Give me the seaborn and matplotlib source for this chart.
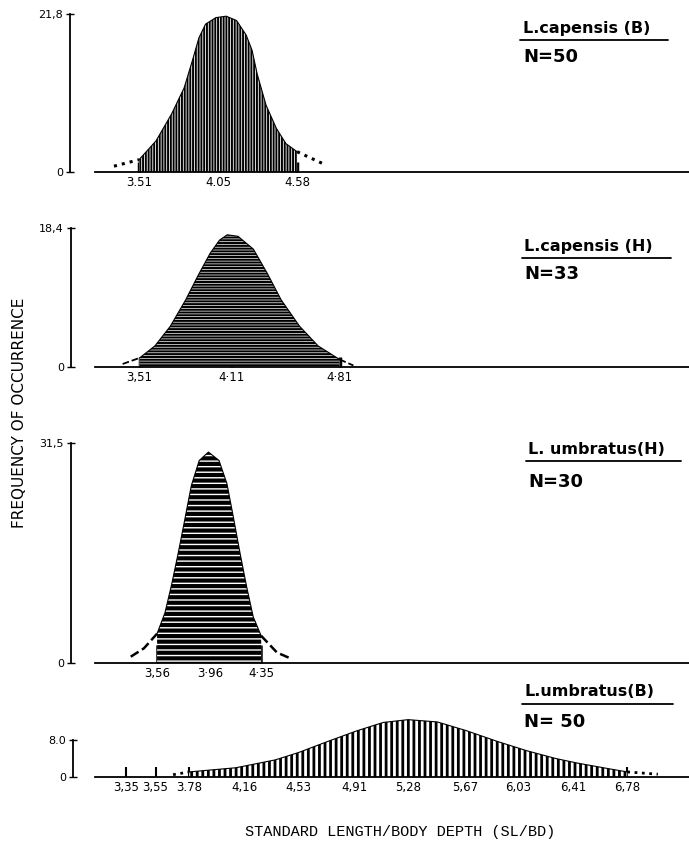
import numpy as np
import matplotlib
matplotlib.use("Agg")
import matplotlib.pyplot as plt
from matplotlib.lines import Line2D
import seaborn as sns

# ---------------- data ----------------
# Panel 1: L.capensis (B), N=50
cap_b_x = [3.34, 3.51, 3.625, 3.73, 3.815, 3.87, 3.915, 3.96, 4.03, 4.10, 4.17,
           4.235, 4.275, 4.31, 4.37, 4.44, 4.505, 4.58, 4.76]
cap_b_y = [0.8, 1.7, 4.3, 8.0, 11.6, 15.3, 18.5, 20.4, 21.3, 21.5, 20.9,
           18.9, 16.8, 13.5, 9.2, 6.0, 3.9, 2.8, 1.1]
cap_b_ticks = [3.51, 4.05, 4.58]
cap_b_ticklabels = ["3.51", "4.05", "4.58"]
cap_b_ymax, cap_b_ymax_label = 21.8, "21,8"

# Panel 2: L.capensis (H), N=33
cap_h_x = [3.40, 3.51, 3.61, 3.71, 3.81, 3.89, 3.97, 4.03, 4.08, 4.15, 4.25,
           4.34, 4.43, 4.55, 4.67, 4.81, 4.90]
cap_h_y = [0.4, 1.2, 2.8, 5.4, 8.9, 12.1, 15.1, 16.8, 17.5, 17.3, 15.6,
           12.4, 8.9, 5.4, 2.8, 1.0, 0.2]
cap_h_ticks = [3.51, 4.11, 4.81]
cap_h_ticklabels = ["3,51", "4·11", "4·81"]
cap_h_ymax, cap_h_ymax_label = 18.4, "18,4"

# Panel 3: L. umbratus (H), N=30
umb_h_x = [3.36, 3.46, 3.56, 3.62, 3.67, 3.72, 3.77, 3.82, 3.88, 3.95, 4.03,
           4.09, 4.14, 4.19, 4.24, 4.29, 4.35, 4.47, 4.58]
umb_h_y = [0.9, 2.1, 4.2, 7.2, 11.2, 15.7, 20.5, 25.4, 29.0, 30.2, 29.0,
           25.7, 20.8, 15.7, 10.9, 6.6, 3.9, 1.5, 0.6]
umb_h_ticks = [3.56, 3.96, 4.35]
umb_h_ticklabels = ["3,56", "3·96", "4·35"]
umb_h_ymax, umb_h_ymax_label = 31.5, "31,5"

# Panel 4: L.umbratus (B), N=50
umb_b_x = [3.67, 3.78, 4.10, 4.37, 4.53, 4.73, 4.93, 5.11, 5.28, 5.48, 5.68,
           5.89, 6.09, 6.29, 6.44, 6.67, 6.78, 6.99]
umb_b_y = [0.5, 1.1, 2.0, 3.7, 5.3, 7.7, 10.0, 11.8, 12.4, 11.9, 10.0,
           7.7, 5.7, 4.0, 3.0, 1.7, 1.1, 0.6]
umb_b_ticks = [3.35, 3.55, 3.78, 4.16, 4.53, 4.91, 5.28, 5.67, 6.03, 6.41, 6.78]
umb_b_ticklabels = ["3,35", "3,55", "3.78", "4,16", "4,53", "4,91", "5,28",
                    "5,67", "6,03", "6,41", "6,78"]
umb_b_ymax, umb_b_ymax_label = 8.0, "8.0"

titles = ["L.capensis (B)", "L.capensis (H)", "L. umbratus(H)", "L.umbratus(B)"]
n_labels = ["N=50", "N=33", "N=30", "N= 50"]
fill_ranges = [(3.51, 4.58), (3.51, 4.81), (3.56, 4.35), (3.78, 6.78)]

ylabel = "FREQUENCY OF OCCURRENCE"
xlabel = "STANDARD LENGTH/BODY DEPTH (SL/BD)"

# ---------------- layout / style (pixels of a 689x843 canvas) ----------------
W, H = 689, 843
layout = [
    dict(yaxis=70, base=172, top=14, axtop=14, tick_px=[140, 217, 298],
         hatch="||||||", hlw=1.4, tail=":", tail_lw=2.2, tick_len=7,
         title_y=28, line_y=40, n_y=57, tx=523, line_x=(520, 668), tick_w=2.5),
    dict(yaxis=71, base=367, top=228, axtop=228, tick_px=[137, 237, 337],
         hatch="------", hlw=1.5, tail="--", tail_lw=1.3, tick_len=7,
         title_y=247, line_y=258, n_y=274, tx=524, line_x=(522, 671), tick_w=2.5),
    dict(yaxis=71, base=663, top=443, axtop=443, tick_px=[158, 208, 262],
         hatch="---", hlw=3.0, tail="--", tail_lw=1.8, tick_len=13,
         title_y=450, line_y=461, n_y=482, tx=528, line_x=(526, 681), tick_w=1.8),
    dict(yaxis=73, base=777, top=740, axtop=712,
         tick_px=[110, 147, 198, 254, 306, 361, 415, 466, 518, 566, 619],
         hatch="|||", hlw=2.0, tail=":", tail_lw=2.0, tick_len=7,
         title_y=692, line_y=704, n_y=722, tx=524, line_x=(522, 673), tick_w=1.5),
]

panels = [
    (cap_b_x, cap_b_y, cap_b_ticks, cap_b_ticklabels, cap_b_ymax, cap_b_ymax_label),
    (cap_h_x, cap_h_y, cap_h_ticks, cap_h_ticklabels, cap_h_ymax, cap_h_ymax_label),
    (umb_h_x, umb_h_y, umb_h_ticks, umb_h_ticklabels, umb_h_ymax, umb_h_ymax_label),
    (umb_b_x, umb_b_y, umb_b_ticks, umb_b_ticklabels, umb_b_ymax, umb_b_ymax_label),
]

sns.set_theme(style="white")
plt.rcParams["font.family"] = ["DejaVu Sans"]
plt.rcParams["text.color"] = "black"
plt.rcParams["xtick.color"] = "black"
plt.rcParams["ytick.color"] = "black"
plt.rcParams["axes.labelcolor"] = "black"

fig = plt.figure(figsize=(W / 100, H / 100), dpi=100)
fig.patch.set_facecolor("white")

BASELINE_START = 95

for (xs, ys, ticks, tlabels, ymax, ymax_label), lay, title, nlab, (lo, hi) in zip(
        panels, layout, titles, n_labels, fill_ranges):
    left = lay["yaxis"] / W
    width = (W - lay["yaxis"]) / W
    bottom = 1 - lay["base"] / H
    height = (lay["base"] - lay["axtop"]) / H
    ax = fig.add_axes([left, bottom, width, height])
    ax.set_facecolor("none")

    # x mapping: linear fit of tick pixel positions to tick values
    a, b = np.polyfit(lay["tick_px"], ticks, 1)
    v = lambda p: a * p + b
    ax.set_xlim(v(lay["yaxis"]), v(W))
    ytop = ymax * (lay["base"] - lay["axtop"]) / (lay["base"] - lay["top"])
    ax.set_ylim(0, ytop)

    xs = np.asarray(xs, float)
    ys = np.asarray(ys, float)
    mid = (xs >= lo - 1e-9) & (xs <= hi + 1e-9)
    lt = xs <= lo + 1e-9
    rt = xs >= hi - 1e-9

    with plt.rc_context({"hatch.linewidth": lay["hlw"]}):
        coll = ax.fill_between(xs[mid], 0, ys[mid], facecolor="white",
                               edgecolor="black", hatch=lay["hatch"], linewidth=0)
        try:
            coll.set_hatch_linewidth(lay["hlw"])
        except Exception:
            pass
    sns.lineplot(x=xs[mid], y=ys[mid], ax=ax, color="black", linewidth=0.8,
                 estimator=None, sort=True)
    sns.lineplot(x=xs[lt], y=ys[lt], ax=ax, color="black", linewidth=lay["tail_lw"],
                 linestyle=lay["tail"], estimator=None)
    sns.lineplot(x=xs[rt], y=ys[rt], ax=ax, color="black", linewidth=lay["tail_lw"],
                 linestyle=lay["tail"], estimator=None)

    for s in ["top", "right"]:
        ax.spines[s].set_visible(False)
    ax.spines["left"].set_bounds(0, ymax)
    ax.spines["bottom"].set_bounds(v(BASELINE_START), v(W))
    for s in ["left", "bottom"]:
        ax.spines[s].set_color("black")
        ax.spines[s].set_linewidth(1.3)

    ax.set_xticks(ticks)
    ax.set_xticklabels(tlabels, fontsize=8.5, color="black")
    ax.tick_params(axis="x", direction="in", length=lay["tick_len"],
                   width=lay["tick_w"], color="black", labelcolor="black",
                   pad=3, bottom=True)
    ax.set_yticks([0, ymax])
    ax.set_yticklabels(["0", ymax_label], fontsize=8, color="black")
    ax.tick_params(axis="y", direction="inout", length=6, width=1.0,
                   color="black", labelcolor="black", pad=2, left=True)
    ax.set_xlabel("")
    ax.set_ylabel("")
    ax.grid(False)

    # titles
    fig.text(lay["tx"] / W, 1 - lay["title_y"] / H, title, fontsize=11.5,
             fontweight="bold", family="DejaVu Sans", ha="left", va="center",
             color="black")
    fig.add_artist(Line2D([lay["line_x"][0] / W, lay["line_x"][1] / W],
                          [1 - lay["line_y"] / H, 1 - lay["line_y"] / H],
                          color="black", linewidth=1.3))
    fig.text(lay["tx"] / W, 1 - lay["n_y"] / H, nlab, fontsize=13,
             fontweight="bold", family="DejaVu Sans", ha="left", va="center",
             color="black")

fig.text(20 / W, 1 - 413 / H, ylabel, rotation=90, fontsize=11,
         ha="center", va="center", family="DejaVu Sans", color="black")
fig.text(400 / W, 1 - 832 / H, xlabel, fontsize=11, ha="center", va="center",
         family="Liberation Mono", color="black")

fig.savefig("out.png", dpi=100, facecolor="white")
